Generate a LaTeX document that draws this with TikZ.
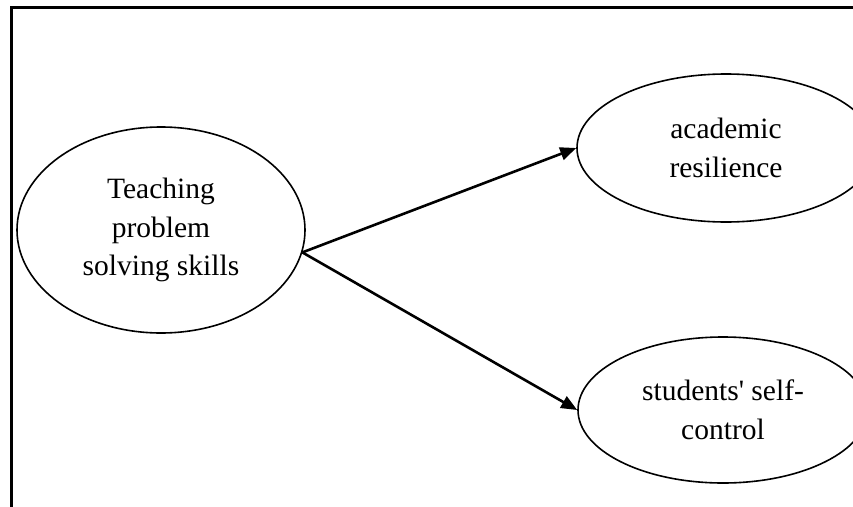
\documentclass[tikz,border=0pt]{standalone}
\usepackage{fontspec}
\setmainfont{Liberation Serif}
\usetikzlibrary{shapes.geometric,arrows.meta}
\begin{document}
\begin{tikzpicture}[x=1pt,y=-1pt,
  oval/.style={ellipse,draw,line width=1.6pt,inner sep=0pt,align=center,
    font=\fontsize{29.5}{38.5}\selectfont},
  link/.style={line width=2.6pt,-{Triangle[length=16pt,width=13pt]}},
  frame/.style={line width=3pt}]
\useasboundingbox (0,0) rectangle (853,506);
\begin{scope}
\clip (0,0) rectangle (853,506);
\draw[frame] (11,520) -- (11,7) -- (870,7);
\node[oval,minimum width=288pt,minimum height=206pt] (T) at (161,230)
  {Teaching\\problem\\solving skills};
\node[oval,minimum width=298pt,minimum height=148pt] (A) at (726,148)
  {academic\\resilience};
\node[oval,minimum width=290pt,minimum height=146pt] (S) at (723,410)
  {students\textquotesingle{} self-\\control};
\coordinate (o) at (T.-9);
\draw[link] (o) -- (A.west);
\draw[link] (o) -- (S.west);
\end{scope}
\end{tikzpicture}
\end{document}
